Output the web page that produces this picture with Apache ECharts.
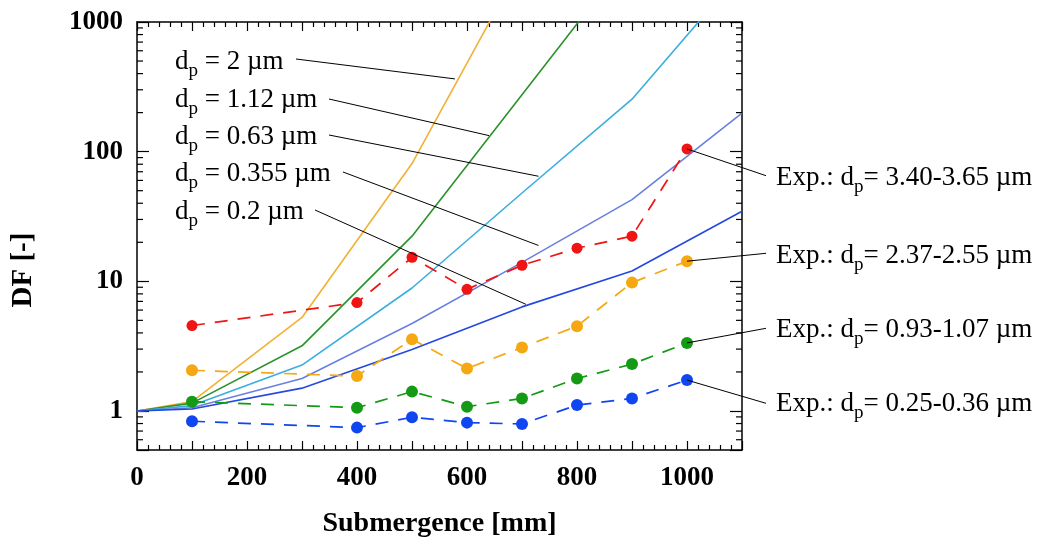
<!DOCTYPE html>
<html><head><meta charset="utf-8">
<script src="https://cdn.jsdelivr.net/npm/echarts@6/dist/echarts.min.js"></script>
<style>html,body{margin:0;padding:0;background:#fff}#c{width:1038px;height:543px}</style>
</head><body><div id="c"></div>
<script>
// ---------- data ----------
const modelX = [0, 100, 300, 500, 700, 900, 1100];
const model_2 = [1, 1.18, 5.26, 81, 2870];
const model_112 = [1, 1.15, 3.18, 22.3, 275, 3400];
const model_063 = [1, 1.1, 2.26, 8.88, 48, 254, 2450];
const model_0355 = [1, 1.06, 1.78, 4.73, 14, 42.7, 198.5];
const model_02 = [1, 1.035, 1.5, 2.98, 6.35, 12.0, 34.7];

const expX = [100, 400, 500, 600, 700, 800, 900, 1000];
const exp_340 = [4.56, 6.86, 15.3, 8.67, 13.3, 18.0, 22.3, 105];
const exp_237 = [2.06, 1.86, 3.58, 2.13, 3.09, 4.51, 9.77, 14.3];
const exp_093 = [1.18, 1.06, 1.41, 1.08, 1.25, 1.78, 2.30, 3.35];
const exp_025 = [0.833, 0.744, 0.894, 0.813, 0.794, 1.11, 1.25, 1.73];

const xTickLabels = [0, 200, 400, 600, 800, 1000];
const yTickLabels = [1, 10, 100, 1000];
const yMinorTicks = [0.6, 0.7, 0.8, 0.9, 2, 3, 4, 5, 6, 7, 8, 9, 20, 30, 40, 50, 60, 70, 80, 90, 200, 300, 400, 500, 600, 700, 800, 900];

const modelNames = ['2', '1.12', '0.63', '0.355', '0.2'];
const expNames = ['3.40-3.65', '2.37-2.55', '0.93-1.07', '0.25-0.36'];

// ---------- layout / style ----------
const FONT = '"Liberation Serif", "DejaVu Serif", serif';
const modelColors = ['#f2b035', '#2b922b', '#3aaede', '#6a80e0', '#2448e0'];
const expColors = ['#f01414', '#f6a812', '#149a14', '#1046f0'];
const expSymbolSizes = [11, 12, 12, 12];
const modelSets = [model_2, model_112, model_063, model_0355, model_02];
const expSets = [exp_340, exp_237, exp_093, exp_025];

const chart = echarts.init(document.getElementById('c'), null, {renderer: 'canvas'});

const axisCommonX = {
  type: 'value', min: 0, max: 1100, interval: 100,
  axisLine: {show: true, onZero: false, lineStyle: {color: '#000', width: 1.5}},
  axisTick: {show: true, inside: true, length: 9, lineStyle: {color: '#000', width: 1.2}},
  minorTick: {show: true, splitNumber: 5, length: 5, lineStyle: {color: '#000', width: 1.2}},
  splitLine: {show: false}, minorSplitLine: {show: false}
};
const axisCommonY = {
  type: 'log', logBase: 10, min: 0.5, max: 1000,
  axisLine: {show: true, onZero: false, lineStyle: {color: '#000', width: 1.5}},
  axisTick: {show: true, inside: true, length: 12, lineStyle: {color: '#000', width: 1.2}},
  splitLine: {show: false}
};

const series = [];
modelSets.forEach((ys, k) => {
  series.push({
    type: 'line', name: 'model ' + modelNames[k], xAxisIndex: 0, yAxisIndex: 0,
    data: ys.map((y, i) => [modelX[i], y]),
    showSymbol: false, symbol: 'none', clip: true,
    lineStyle: {color: modelColors[k], width: 1.6}, z: 3
  });
});
expSets.forEach((ys, k) => {
  series.push({
    type: 'line', name: 'exp ' + expNames[k], xAxisIndex: 0, yAxisIndex: 0,
    data: ys.map((y, i) => [expX[i], y]),
    symbol: 'circle', symbolSize: expSymbolSizes[k], showSymbol: true,
    lineStyle: {color: expColors[k], width: 1.7, type: [13, 10]},
    itemStyle: {color: expColors[k]}, z: 4
  });
});
series.push({
  type: 'custom', name: 'minorY', xAxisIndex: 0, yAxisIndex: 0, silent: true,
  data: yMinorTicks.map(v => [0, v]),
  renderItem: function (params, api) {
    const v = api.value(1);
    const pl = api.coord([0, v]);
    const pr = api.coord([1100, v]);
    return {type: 'group', children: [
      {type: 'line', shape: {x1: pl[0], y1: pl[1], x2: pl[0] + 6, y2: pl[1]}, style: {stroke: '#000', lineWidth: 1.2}},
      {type: 'line', shape: {x1: pr[0] - 6, y1: pr[1], x2: pr[0], y2: pr[1]}, style: {stroke: '#000', lineWidth: 1.2}}
    ]};
  }, z: 5
});

chart.setOption({
  animation: false,
  backgroundColor: '#fff',
  grid: {left: 137, top: 22, width: 605, height: 428, containLabel: false},
  xAxis: [
    Object.assign({}, axisCommonX, {position: 'bottom',
      axisLabel: {show: true, margin: 15, color: '#000', fontFamily: FONT, fontSize: 27, fontWeight: 'bold',
        formatter: v => xTickLabels.indexOf(Math.round(v)) >= 0 ? String(Math.round(v)) : ''},
      name: 'Submergence [mm]', nameLocation: 'middle', nameGap: 60,
      nameTextStyle: {color: '#000', fontFamily: FONT, fontSize: 28, fontWeight: 'bold'}}),
    Object.assign({}, axisCommonX, {position: 'top', axisLabel: {show: false}})
  ],
  yAxis: [
    Object.assign({}, axisCommonY, {position: 'left',
      axisLabel: {show: true, margin: 14, color: '#000', fontFamily: FONT, fontSize: 27, fontWeight: 'bold',
        formatter: v => {
          const m = yTickLabels.find(t => Math.abs(t - v) / t < 1e-6);
          return m !== undefined ? String(m) : '';
        }}}),
    Object.assign({}, axisCommonY, {position: 'right', axisLabel: {show: false}})
  ],
  series: series
});

// ---------- annotations ----------
const toPx = p => chart.convertToPixel({xAxisIndex: 0, yAxisIndex: 0}, p);
const modelLabelPos = [[175, 62], [175, 100], [175, 137], [175, 174], [175, 212]];
const modelLeaderStart = [[296, 59], [329, 99], [329, 135], [343, 172], [315, 210]];
const modelLeaderEnd = [[578, 364], [640, 133], [730, 64.6], [730, 18.9], [707, 6.65]];
const expLabelPos = [[776, 178], [776, 256], [776, 330], [776, 404]];
const expLeaderStart = [[766, 175.7], [766, 253.3], [766, 328.3], [766, 403.3]];

const rich = {s: {fontFamily: FONT, fontSize: 19, padding: [18, 0, 0, 0], fill: '#000'}};
const g = [];
modelNames.forEach((n, k) => {
  g.push({type: 'text', silent: true, z: 10, style: {
    x: modelLabelPos[k][0], y: modelLabelPos[k][1], text: 'd{s|p} = ' + n + ' µm',
    fontFamily: FONT, fontSize: 27, fill: '#000', verticalAlign: 'middle', align: 'left', rich: rich}});
  const e = toPx(modelLeaderEnd[k]);
  g.push({type: 'line', silent: true, z: 10, shape: {x1: modelLeaderStart[k][0], y1: modelLeaderStart[k][1], x2: e[0], y2: e[1]},
    style: {stroke: '#000', lineWidth: 1}});
});
expNames.forEach((n, k) => {
  g.push({type: 'text', silent: true, z: 10, style: {
    x: expLabelPos[k][0], y: expLabelPos[k][1], text: 'Exp.: d{s|p}= ' + n + ' µm',
    fontFamily: FONT, fontSize: 27, fill: '#000', verticalAlign: 'middle', align: 'left', rich: rich}});
  const ys = expSets[k];
  const e = toPx([expX[expX.length - 1], ys[ys.length - 1]]);
  g.push({type: 'line', silent: true, z: 10, shape: {x1: expLeaderStart[k][0], y1: expLeaderStart[k][1], x2: e[0], y2: e[1]},
    style: {stroke: '#000', lineWidth: 1}});
});
g.push({type: 'text', silent: true, x: 24, y: 270, rotation: Math.PI / 2, style: {
  x: 0, y: 0, text: 'DF [-]', fontFamily: FONT, fontSize: 29, fontWeight: 'bold', fill: '#000', align: 'center', verticalAlign: 'middle'}});
chart.setOption({graphic: g});
</script>
</body></html>
